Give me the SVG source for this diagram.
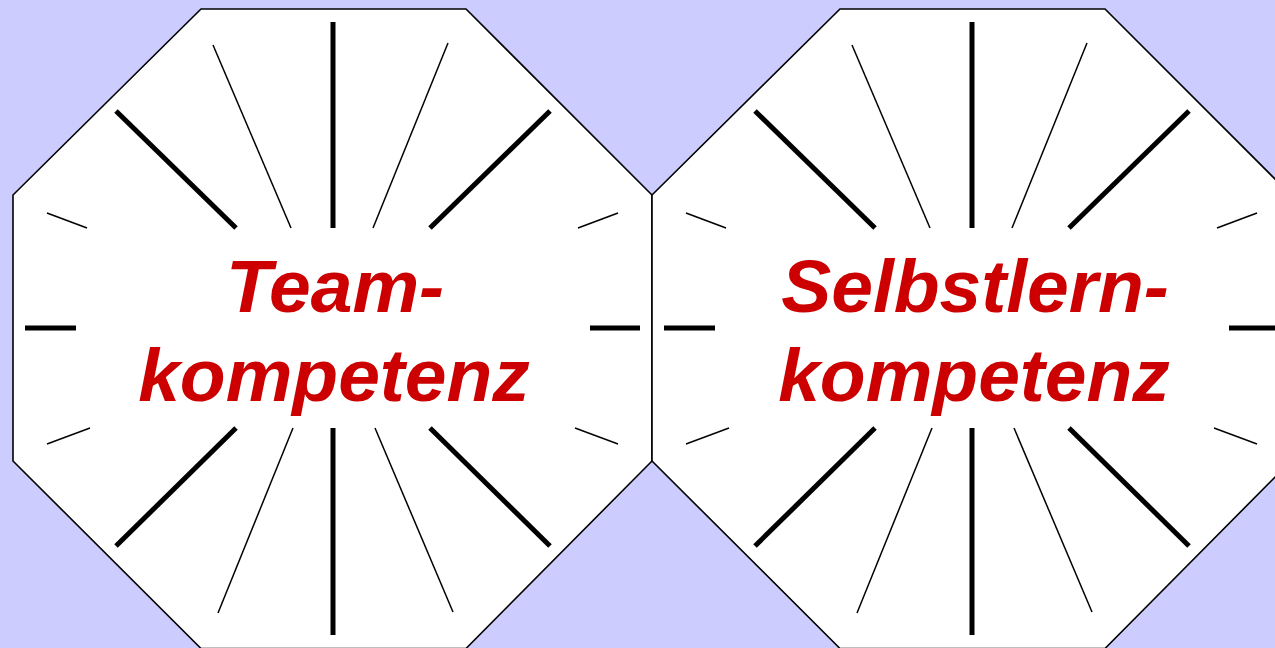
<svg xmlns="http://www.w3.org/2000/svg" xmlns:xlink="http://www.w3.org/1999/xlink" width="1275" height="648" viewBox="0 0 1275 648">
<style>
.oct{fill:#ffffff;stroke:#000000;stroke-width:1.6;stroke-linejoin:miter}
.thick{stroke:#000000;stroke-width:5;fill:none}
.thin{stroke:#000000;stroke-width:1.5;fill:none}
.lbl{font-family:"Liberation Sans",Arial,sans-serif;font-weight:bold;font-style:italic;font-size:75px;fill:#CC0000;text-anchor:middle}
</style>
<defs>
<g id="burst">
<polygon class="oct" points="201,9 466,9 652,195 652,461 466,648.5 201,648.5 13,461 13,195"/>
<line class="thick" x1="333" y1="22" x2="333" y2="228"/>
<line class="thick" x1="333" y1="428" x2="333" y2="635"/>
<line class="thick" x1="25" y1="328" x2="76" y2="328"/>
<line class="thick" x1="590" y1="328" x2="640" y2="328"/>
<line class="thick" x1="116" y1="111" x2="236" y2="228"/>
<line class="thick" x1="550" y1="111" x2="430" y2="228"/>
<line class="thick" x1="116" y1="546" x2="236" y2="428"/>
<line class="thick" x1="550" y1="546" x2="430" y2="428"/>
<line class="thin" x1="213" y1="45" x2="291" y2="228"/>
<line class="thin" x1="448" y1="43" x2="373" y2="228"/>
<line class="thin" x1="218" y1="613" x2="293" y2="428"/>
<line class="thin" x1="453" y1="612" x2="375" y2="428"/>
<line class="thin" x1="47" y1="213" x2="87" y2="228"/>
<line class="thin" x1="618" y1="213" x2="578" y2="228"/>
<line class="thin" x1="47" y1="444" x2="90" y2="428"/>
<line class="thin" x1="618" y1="444" x2="575" y2="428"/>
</g>
</defs>
<rect x="0" y="0" width="1275" height="648" fill="#CCCCFF"/>
<g id="connectors"></g>
<g id="team">
<use xlink:href="#burst" href="#burst"/>
<text class="lbl" x="335" y="312">Team-</text>
<text class="lbl" x="334" y="401">kompetenz</text>
</g>
<g id="selbstlern">
<use xlink:href="#burst" href="#burst" transform="translate(639,0)"/>
<text class="lbl" x="975" y="312">Selbstlern-</text>
<text class="lbl" x="974" y="401">kompetenz</text>
</g>
</svg>
